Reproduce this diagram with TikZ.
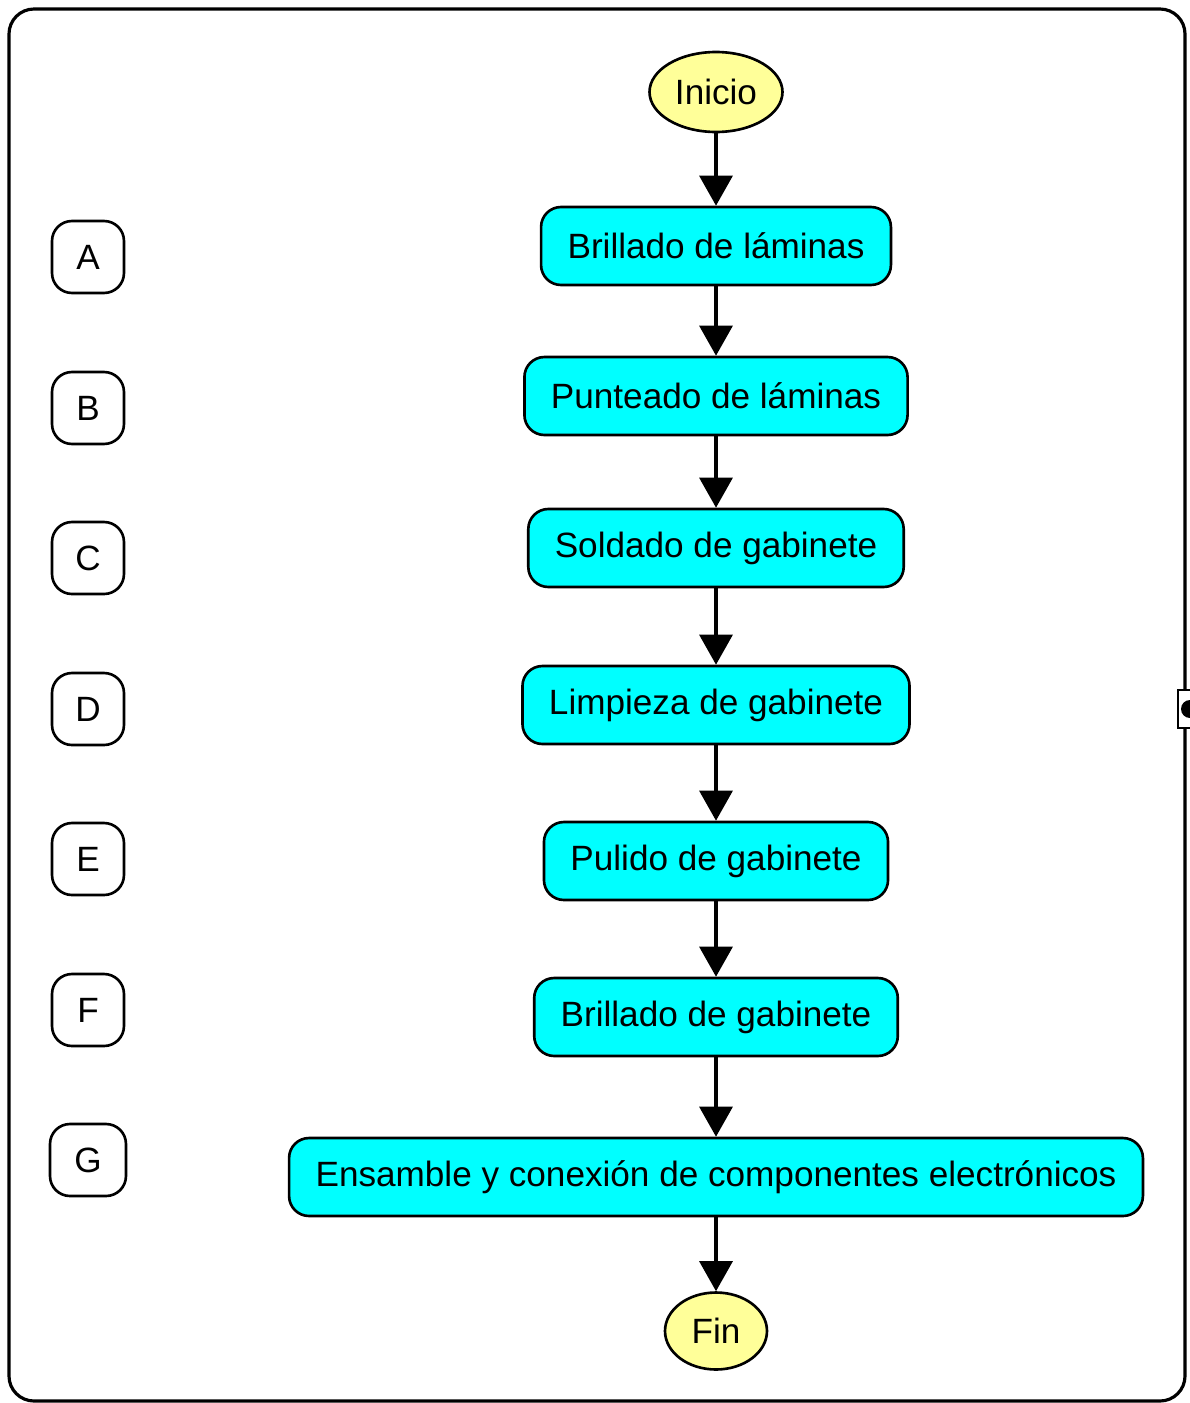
\documentclass[tikz,border=0pt]{standalone}
\usepackage{fontspec}
\setmainfont{Liberation Sans}
\usetikzlibrary{shapes.geometric,arrows.meta}
\definecolor{cian}{HTML}{00FFFF}
\definecolor{crema}{HTML}{FFFF99}

\begin{document}
\begin{tikzpicture}[x=0.02cm,y=-0.02cm,
  font=\fontsize{20}{24}\selectfont,
  paso/.style={draw,line width=1.5pt,fill=cian,rounded corners=0.4cm,inner xsep=0.53cm,minimum height=1.56cm},
  letra/.style={draw,line width=1.5pt,rounded corners=0.4cm,minimum size=1.44cm,inner sep=0pt},
  extremo/.style={draw,ellipse,line width=1.5pt,fill=crema,inner sep=0pt},
  flecha/.style={line width=1.8pt,-{Triangle[length=0.6cm,width=0.66cm]}}]
\useasboundingbox (0,0) rectangle (1190,1403);
% marco
\draw[line width=1.8pt,rounded corners=0.5cm] (9,9) rectangle (1185,1401);
\draw[line width=1.2pt,fill=white] (1178,690) rectangle (1192,728);
\fill (1190,700) arc (90:270:0.18cm) -- cycle;
% pasos
\node[extremo,minimum width=2.66cm,minimum height=1.6cm](inicio) at (716,92){Inicio};
\node[paso](a) at (716,246){Brillado de láminas};
\node[paso](b) at (716,396){Punteado de láminas};
\node[paso](c) at (716,548){Soldado de gabinete};
\node[paso](d) at (716,705){Limpieza de gabinete};
\node[paso](e) at (716,861){Pulido de gabinete};
\node[paso](f) at (716,1017){Brillado de gabinete};
\node[paso](g) at (716,1177){Ensamble y conexión de componentes electrónicos};
\node[extremo,minimum width=2.04cm,minimum height=1.54cm](fin) at (716,1331){Fin};
\draw[flecha] (inicio) -- (a);
\draw[flecha] (a) -- (b);
\draw[flecha] (b) -- (c);
\draw[flecha] (c) -- (d);
\draw[flecha] (d) -- (e);
\draw[flecha] (e) -- (f);
\draw[flecha] (f) -- (g);
\draw[flecha] (g) -- (fin);
% letras
\node[letra](la) at (88,257){A};
\node[letra](lb) at (88,408){B};
\node[letra](lc) at (88,558){C};
\node[letra](ld) at (88,709){D};
\node[letra](le) at (88,859){E};
\node[letra](lf) at (88,1010){F};
\node[letra,minimum width=1.52cm](lg) at (88,1160){G};
\end{tikzpicture}
\end{document}
